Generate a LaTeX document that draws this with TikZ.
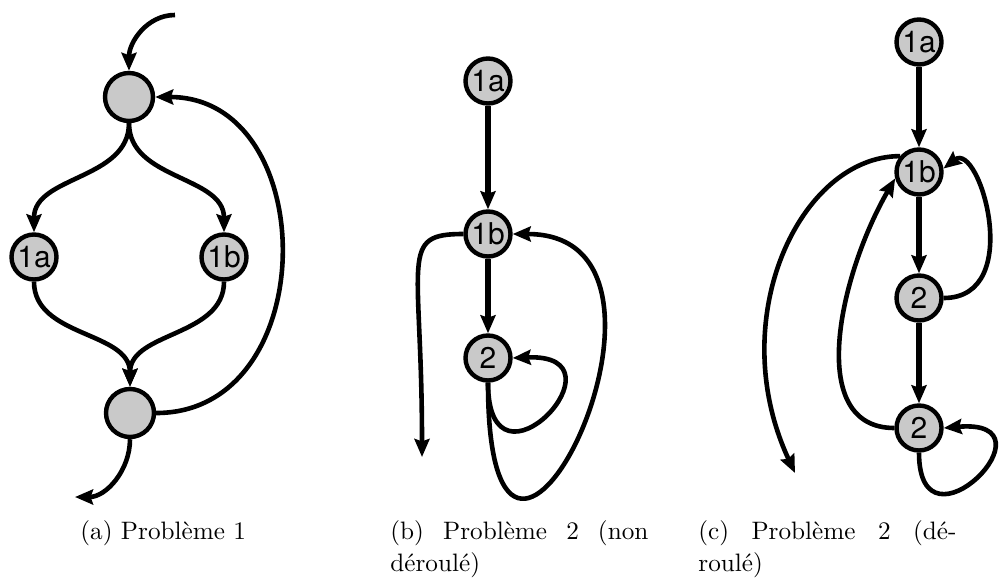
\documentclass[tikz,border=0pt]{standalone}
\usepackage{graphicx}
\usepackage{fontspec}
\newfontfamily\heros{TeX Gyre Heros}
\usetikzlibrary{arrows.meta}

\newcommand{\etire}[1]{\scalebox{1.2}{\fontsize{10.5}{13.3}\selectfont #1}}
\newcommand{\legende}[1]{\etire{\parbox[t]{107.5pt}{#1}}}

\tikzset{
    etat/.style={circle, draw, line width=2.2pt, fill=black!21, minimum size=22.5pt, inner sep=0pt, font=\heros\fontsize{15}{15}\selectfont},
    fleche/.style={line width=2.3pt, -{Stealth[length=9pt, width=7.5pt, inset=1.2pt]}},
    droite/.style={fleche, line width=3pt},
    legendenode/.style={anchor=north west, inner sep=0pt}
}

\begin{document}
\begin{tikzpicture}[x=0.5pt, y=0.5pt]
    \useasboundingbox (0,0) rectangle (1000,-578);

    % (a) Probleme 1
    \node[etat, minimum size=24pt] (a0) at (129,-97) {};
    \node[etat] (a1a) at (34,-257) {1a};
    \node[etat] (a1b) at (224,-257) {1b};
    \node[etat, minimum size=24pt] (a3) at (130,-413) {};
    \coordinate (aIn) at (175,-15);
    \coordinate (aOut) at (75,-497);

    \draw[fleche] (aIn) to[out=180, in=90] (a0);
    \draw[fleche] (a0) to[out=-90, in=90] (a1a);
    \draw[fleche] (a0) to[out=-90, in=90] (a1b);
    \draw[fleche] (a1a) to[out=-90, in=90] (a3);
    \draw[fleche] (a1b) to[out=-90, in=90] (a3);
    \draw[fleche] (a3) to[out=0, in=0, looseness=1.35] (a0);
    \draw[fleche] (a3) to[out=-90, in=0] (aOut);

    % (b) Probleme 2 (non deroule)
    \node[etat] (b1a) at (488,-81) {1a};
    \node[etat, below of=b1a, node distance=76.5pt] (b1b) {1b};
    \node[etat, below of=b1b, node distance=62pt] (b2) {2};
    \coordinate (bOut) at (422,-457);

    \draw[droite] (b1a) -- (b1b);
    \draw[droite] (b1b) -- (b2);
    \draw[fleche] (b1b.west) .. controls +(-65,0) and +(0,200) .. (bOut);
    \draw[fleche] (b2.south) .. controls +(0,-330) and +(210,0) .. (b1b.east);
    \draw[fleche] (b2.south) .. controls +(0,-125) and +(120,5) .. (b2.east);

    % (c) Probleme 2 (deroule)
    \node[etat] (c1a) at (919,-42) {1a};
    \node[etat, below of=c1a, node distance=65pt] (c1b) {1b};
    \node[etat, below of=c1b, node distance=63pt] (c2) {2};
    \node[etat, below of=c2, node distance=65pt] (c2b) {2};
    \coordinate (cOut) at (795,-473);

    \draw[droite] (c1a) -- (c1b);
    \draw[droite] (c1b) -- (c2);
    \draw[droite] (c2) -- (c2b);
    \draw[fleche] (c1b.140) .. controls +(-100,0) and +(-72,154) .. (cOut);
    \draw[fleche] (c2.east) .. controls +(82,0) and +(36,28) .. (c1b.8);
    \draw[fleche] (c2b.west) .. controls +(-90,0) and +(-55,-95) .. (c1b.195);
    \draw[fleche] (c2b.south) .. controls +(0,-110) and +(118,10) .. (c2b.east);

    % legendes
    \node[legendenode] (capa) at (80,-520) {\etire{(a) Problème 1}};
    \node[legendenode] (capb) at (390,-520) {\legende{(b) Problème 2 (non\linebreak déroulé)}};
    \node[legendenode] (capc) at (698,-520) {\legende{(c) Problème 2 (dé-\linebreak roulé)}};
\end{tikzpicture}
\end{document}
